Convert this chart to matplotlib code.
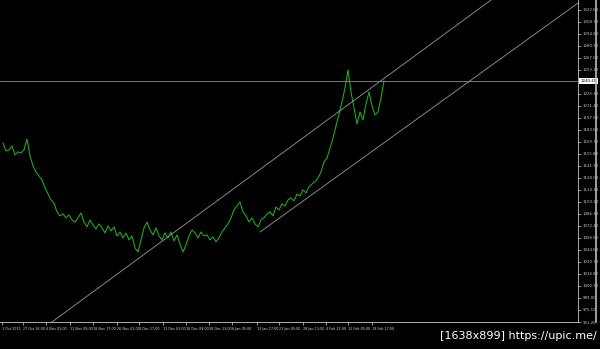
import matplotlib

matplotlib.use("Agg")
import matplotlib.pyplot as plt
import numpy as np

# price series, one bar every few pixels
prices = [
    1168.6, 1159.3, 1160.5, 1165.1, 1154.7, 1158.2, 1157.0, 1160.5, 1173.2, 1153.6,
    1142.0, 1135.0, 1130.4, 1125.8, 1116.5, 1109.5, 1102.6, 1099.1, 1088.7, 1084.1,
    1086.4, 1081.8, 1085.2, 1079.4, 1077.1, 1081.8, 1087.5, 1077.1, 1071.3, 1079.4,
    1073.6, 1069.0, 1074.8, 1070.2, 1064.4, 1072.5, 1066.7, 1071.3, 1060.9, 1065.5,
    1058.6, 1064.4, 1056.3, 1060.9, 1047.0, 1042.4, 1056.3, 1070.2, 1077.1, 1067.9,
    1062.1, 1070.2, 1060.9, 1056.3, 1064.4, 1058.6, 1065.5, 1055.1, 1062.1, 1051.6,
    1042.4, 1050.5, 1060.9, 1067.9, 1064.4, 1058.6, 1065.5, 1060.9, 1062.1, 1056.3,
    1059.8, 1054.0, 1058.6, 1065.5, 1070.2, 1074.8, 1081.8, 1091.0, 1095.7, 1100.3,
    1088.7, 1084.1, 1077.1, 1081.8, 1074.8, 1071.3, 1079.4, 1081.8, 1086.4, 1088.7,
    1084.1, 1094.5, 1091.0, 1098.0, 1095.7, 1102.6, 1104.9, 1101.4, 1109.5, 1107.2,
    1114.2, 1110.7, 1117.7, 1121.1, 1123.4, 1128.1, 1135.0, 1146.6, 1151.2, 1162.8,
    1174.4, 1188.3, 1202.2, 1216.1, 1232.3, 1253.1, 1227.7, 1209.1, 1190.6, 1204.5,
    1195.2, 1213.8, 1227.7, 1211.5, 1201.0, 1204.5, 1220.7, 1240.4,
]
bid = 1240.40

# channel anchors (bar index, price)
upper_channel = [(15.0, 957.9), (161.3, 1330.7)]
lower_channel = [(85.7, 1065.5), (191.7, 1330.7)]

tick_bars = [-0.3, 6.7, 14.3, 22.3, 30.0, 38.0, 45.3, 53.3, 61.0, 68.7,
             76.3, 84.7, 92.0, 100.0, 107.7, 115.0, 123.0]
tick_labels = ["1 Oct 2015", "27 Oct 16:00", "4 Nov 01:00", "11 Nov 09:00",
               "18 Nov 17:00", "26 Nov 01:00", "3 Dec 17:00", "11 Dec 01:00",
               "18 Dec 09:00", "28 Dec 13:00", "6 Jan 05:00", "13 Jan 17:00",
               "21 Jan 05:00", "28 Jan 13:00", "4 Feb 21:00", "12 Feb 05:00",
               "19 Feb 17:00"]
price_ticks = [961.20 + 13.90 * k for k in range(27)]

bg = "black"
fg = "#d8d8d8"
fig = plt.figure(figsize=(6.0, 3.49), dpi=100)
fig.patch.set_facecolor(bg)
ax = fig.add_axes([0.0, 27 / 349, 578 / 600, 322 / 349])
ax.set_facecolor(bg)

bars = np.arange(len(prices))
ax.plot(bars, prices, color="#1fb31f", lw=0.75)

ax.axhline(bid, color="#8a8a8a", lw=0.6)
for (x0, y0), (x1, y1) in (upper_channel, lower_channel):
    slope = (y1 - y0) / (x1 - x0)
    ax.plot([x0, x1 + 60], [y0, y0 + slope * (x1 + 60 - x0)], color="#9a9a9a", lw=0.6)

ax.set_xlim(-1.0, 191.67)
ax.set_ylim(961.2, 1334.18)

for name in ("top", "left"):
    ax.spines[name].set_visible(False)
for name in ("right", "bottom"):
    ax.spines[name].set_color("#c8c8c8")
    ax.spines[name].set_linewidth(0.6)

ax.yaxis.tick_right()
shown = [v for v in price_ticks if abs(v - bid) > 8]
ax.set_yticks(shown)
ax.set_yticklabels([f"{v:.2f}" for v in shown])
ax.set_xticks(tick_bars)
ax.set_xticklabels(tick_labels, ha="left")
ax.tick_params(colors=fg, length=2, width=0.5, pad=1.5)
ax.tick_params(axis="x", labelsize=2.4)
ax.tick_params(axis="y", colors="#c8c8c8", labelsize=2.8)

ax.text(1.004, (bid - 961.2) / (1334.18 - 961.2), f"{bid:.2f}", transform=ax.transAxes,
        fontsize=2.8, color="black", va="center", ha="left",
        bbox=dict(boxstyle="square,pad=0.25", fc="white", ec="none"))

# scroll strip on the far right
fig.add_artist(plt.Line2D([596 / 600, 596 / 600], [27 / 349, 1.0], color="#bbbbbb", lw=1.2))

fig.text(597 / 600, 13 / 349, "[1638x899] https://upic.me/", color="white",
         fontsize=8, ha="right", va="center")

fig.savefig("out.png", facecolor=bg)
